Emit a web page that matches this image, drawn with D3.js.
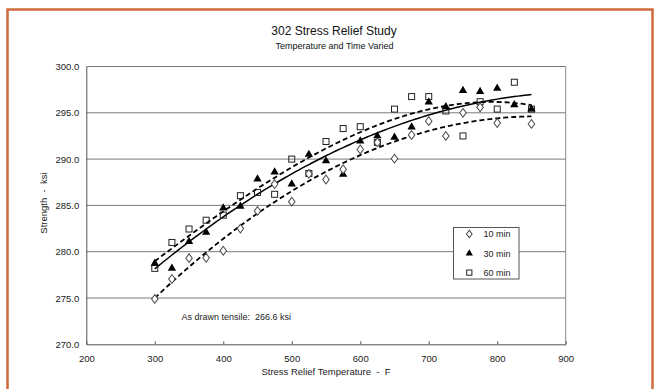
<!DOCTYPE html>
<html><head><meta charset="utf-8">
<script src="https://cdn.jsdelivr.net/npm/d3@7"></script>
<style>
html,body{margin:0;padding:0;background:#fff;}
svg{display:block;font-family:"Liberation Sans",Arial,sans-serif;}
</style></head>
<body>
<script>
const temps = [300,325,350,375,400,425,450,475,500,525,550,575,600,625,650,675,700,725,750,775,800,825,850];
const min10 = [274.9,277.05,279.3,279.35,280.1,282.5,284.4,287.3,285.4,288.4,287.8,288.9,291.05,291.8,290.05,292.6,294.1,292.5,295.0,295.6,293.9,null,293.8];
const min30 = [278.75,278.2,281.1,282.1,284.7,284.9,287.85,288.6,287.3,290.5,289.8,288.35,291.95,292.5,292.35,293.45,296.15,295.65,297.4,297.3,297.65,295.85,295.4];
const min60 = [278.2,281.0,282.45,283.4,283.95,286.05,286.4,286.2,290.0,288.45,291.9,293.3,293.5,291.8,295.4,296.75,296.75,295.2,292.5,296.2,295.4,298.3,295.4];
const seriesNames = ["10 min","30 min","60 min"];
const xTicks = [200,300,400,500,600,700,800,900];
const yTicks = [270,275,280,285,290,295,300];
const title = "302 Stress Relief Study";
const subtitle = "Temperature and Time Varied";
const xTitle = "Stress Relief Temperature  -  F";
const yTitle = "Strength  -  ksi";
const note = "As drawn tensile:  266.6 ksi";

const W = 661, H = 389;
const svg = d3.select("body").append("svg").attr("width", W).attr("height", H);
svg.append("rect").attr("width", W).attr("height", H).attr("fill", "#fff");
svg.append("rect").attr("x", 7.5).attr("y", 9.5).attr("width", 645).attr("height", 400)
  .attr("fill", "none").attr("stroke", "#d0693c").attr("stroke-width", 2.5);

const x = d3.scaleLinear().domain([200, 900]).range([86.3, 565.7]);
const y = d3.scaleLinear().domain([270, 300]).range([344.3, 66.5]);

svg.append("g").selectAll("line").data(yTicks.filter(v => v > 270)).join("line")
  .attr("x1", x(200)).attr("x2", x(900)).attr("y1", d => y(d)).attr("y2", d => y(d))
  .attr("stroke", "#7a7a7a").attr("stroke-width", 1);
svg.append("line").attr("x1", x(900)).attr("x2", x(900)).attr("y1", y(300)).attr("y2", y(270))
  .attr("stroke", "#8a8a8a").attr("stroke-width", 1);

const xAxis = d3.axisBottom(x).tickValues(xTicks).tickSizeInner(-3).tickSizeOuter(0).tickPadding(11).tickFormat(d3.format("d"));
const gx = svg.append("g").attr("transform", `translate(0,${y(270)})`).call(xAxis);
gx.select(".domain").attr("stroke", "#555");
gx.selectAll(".tick line").attr("stroke", "#555");
gx.selectAll("text").attr("font-size", 9.5).attr("fill", "#222").attr("font-family", "Liberation Sans, Arial, sans-serif");

const yAxis = d3.axisLeft(y).tickValues(yTicks).tickSize(0).tickPadding(7).tickFormat(d3.format(".1f"));
const gy = svg.append("g").attr("transform", `translate(${x(200)},0)`).call(yAxis);
gy.select(".domain").attr("stroke", "#555");
gy.selectAll("text").attr("font-size", 9.5).attr("fill", "#222").attr("font-family", "Liberation Sans, Arial, sans-serif");

svg.append("text").attr("x", 334).attr("y", 35).attr("text-anchor", "middle")
  .attr("font-size", 12).attr("fill", "#111").text(title);
svg.append("text").attr("x", 334.5).attr("y", 49.3).attr("text-anchor", "middle")
  .attr("font-size", 9).attr("fill", "#111").text(subtitle);
svg.append("text").attr("x", 326).attr("y", 375).attr("text-anchor", "middle")
  .attr("font-size", 9.5).attr("fill", "#222").style("white-space", "pre").text(xTitle);
svg.append("text").attr("transform", `translate(47,${203}) rotate(-90)`).attr("text-anchor", "middle")
  .attr("font-size", 9.5).attr("fill", "#222").style("white-space", "pre").text(yTitle);
svg.append("text").attr("x", 181.5).attr("y", 320).attr("font-size", 9).attr("fill", "#222")
  .style("white-space", "pre").text(note);

// polynomial least-squares trendline of given order
function polyFit(xs, ys, order) {
  const pts = xs.map((v, i) => [v, ys[i]]).filter(p => p[1] != null);
  const xm = d3.mean(pts, p => p[0]);
  const n = order + 1;
  const M = Array.from({length: n}, () => new Array(n + 1).fill(0));
  pts.forEach(([a, b]) => {
    const u = (a - xm) / 100;
    for (let r = 0; r < n; r++) {
      for (let c = 0; c < n; c++) M[r][c] += Math.pow(u, r + c);
      M[r][n] += b * Math.pow(u, r);
    }
  });
  for (let i = 0; i < n; i++) {
    let p = i; for (let r = i+1; r < n; r++) if (Math.abs(M[r][i]) > Math.abs(M[p][i])) p = r;
    [M[i], M[p]] = [M[p], M[i]];
    for (let r = 0; r < n; r++) if (r !== i) {
      const f = M[r][i] / M[i][i];
      for (let c = i; c <= n; c++) M[r][c] -= f * M[i][c];
    }
  }
  const coef = M.map((row, i) => row[n] / row[i]);
  return t => { const u = (t - xm) / 100; return coef.reduce((s, c, k) => s + c * Math.pow(u, k), 0); };
}
const allSeries = [min10, min30, min60];
const orders = [2, 2, 3];
const dashes = ["5,3", null, "5,3"];
const widths = [1.8, 1.5, 1.8];
const line = d3.line().x(d => x(d[0])).y(d => y(d[1]));
const samples = d3.range(temps[0], temps[temps.length-1] + 0.1, 5);
allSeries.forEach((s, i) => {
  const f = polyFit(temps, s, orders[i]);
  svg.append("path").attr("d", line(samples.map(t => [t, f(t)])))
    .attr("fill", "none").attr("stroke", "#000").attr("stroke-width", widths[i])
    .attr("stroke-dasharray", dashes[i]);
});

function drawMarker(g, i, cx, cy, scale) {
  if (i === 0) {
    g.append("path").attr("d", d3.symbol().type(d3.symbolDiamond).size(22*scale)())
      .attr("transform", `translate(${cx},${cy}) scale(1.3,1)`)
      .attr("fill", "#fff").attr("stroke", "#444").attr("stroke-width", 0.8);
  } else if (i === 1) {
    g.append("path").attr("d", d3.symbol().type(d3.symbolTriangle).size(30*scale)())
      .attr("transform", `translate(${cx},${cy})`).attr("fill", "#000");
  } else {
    const s = 6 * Math.sqrt(scale);
    g.append("rect").attr("x", cx - s/2).attr("y", cy - s/2).attr("width", s).attr("height", s)
      .attr("fill", "none").attr("stroke", "#222").attr("stroke-width", 1);
  }
}
const gm = svg.append("g");
[2, 1, 0].forEach(i => {
  allSeries[i].forEach((v, j) => { if (v != null) drawMarker(gm, i, x(temps[j]), y(v), 1); });
});

const lg = svg.append("g");
lg.append("rect").attr("x", 453.5).attr("y", 227.5).attr("width", 65.5).attr("height", 51.5)
  .attr("fill", "#fff").attr("stroke", "#555").attr("stroke-width", 1);
seriesNames.forEach((n, i) => {
  const cy = 234 + i * 19.3;
  drawMarker(lg, i, 469.3, cy, 0.75);
  lg.append("text").attr("x", 483.5).attr("y", cy + 3.2).attr("font-size", 9).attr("fill", "#222").text(n);
});
</script>
</body></html>
